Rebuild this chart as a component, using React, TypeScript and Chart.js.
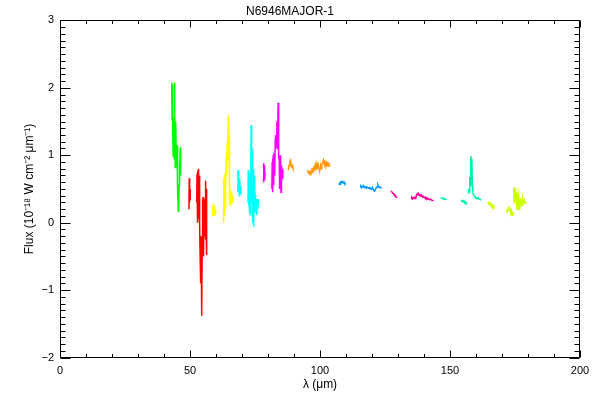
import { useEffect, useRef } from "react";
import { Chart, registerables } from "chart.js";

Chart.register(...registerables);

type Pt = [number, number];

// ---- data: [wavelength (µm), flux (1e-18 W cm^-2 µm^-1)] ----
const greenA: Pt[] = [
  [42.9, 1.9], [43.0, 2.08], [43.1, 1.55], [43.2, 2.05], [43.3, 1.5], [43.4, 1.65], [43.5, 1.0],
  [43.6, 1.55], [43.7, 0.98], [43.8, 1.4], [43.9, 1.2], [44.0, 2.08], [44.1, 1.0], [44.2, 1.5],
  [44.3, 0.82], [44.4, 1.45], [44.5, 0.9], [44.6, 1.5], [44.7, 1.0], [44.8, 1.1], [44.9, 0.82],
  [45.0, 1.15], [45.1, 0.85], [45.2, 0.9], [45.35, 0.5], [45.5, 0.17], [45.6, 0.5], [45.7, 0.2],
  [45.8, 0.55], [45.9, 0.6], [46.0, 0.9], [46.1, 0.55], [46.2, 1.1], [46.3, 0.7], [46.4, 1.12], [46.5, 0.8],
];

const redA: Pt[] = [
  [49.6, 0.2], [49.7, 0.66], [49.8, 0.3], [49.9, 0.45], [50.0, 0.35], [50.1, 0.5],
];
const redB: Pt[] = [
  [52.6, 0.3], [52.7, 0.72], [52.8, 0.1], [52.9, 0.75], [53.0, 0.0], [53.1, 0.78], [53.2, 0.2],
  [53.3, 0.8], [53.4, 0.05], [53.5, 0.7], [53.6, 0.1], [53.7, 0.5], [53.8, -0.05], [53.9, -0.5],
  [54.0, -0.9], [54.1, -0.6], [54.2, -0.8], [54.3, -0.2], [54.4, -0.85], [54.5, -0.4], [54.6, -1.38],
  [54.7, -0.3], [54.8, 0.35], [54.9, -0.45], [55.0, 0.38], [55.1, -0.3], [55.2, 0.3], [55.3, -0.5],
  [55.4, 0.2], [55.5, -0.2], [55.6, 0.35], [55.7, -0.1], [55.8, 0.3], [55.9, -0.25], [56.0, 0.1],
  [56.1, 0.62], [56.2, -0.1], [56.3, 0.5], [56.4, -0.48], [56.5, 0.2],
];

const yellowA: Pt[] = [
  [58.7, 0.1], [58.8, 0.28], [58.9, 0.12], [59.0, 0.25], [59.1, 0.15], [59.3, 0.2], [59.5, 0.1],
  [59.7, 0.18], [59.9, 0.13],
];
const yellowB: Pt[] = [
  [62.8, 0.05], [62.9, 0.65], [63.0, 0.0], [63.1, 0.6], [63.2, 0.1], [63.3, 0.72], [63.4, 0.12],
  [63.5, 0.7], [63.6, 0.2], [63.7, 0.75], [63.8, 0.68], [63.9, 0.98], [64.0, 0.7], [64.1, 0.95],
  [64.2, 0.9], [64.3, 1.2], [64.4, 0.92], [64.5, 1.25], [64.6, 1.2], [64.7, 1.55], [64.8, 1.15],
  [64.9, 1.6], [65.0, 1.3], [65.1, 0.56], [65.2, 0.3], [65.3, 0.45], [65.4, 0.26], [65.5, 0.5],
  [65.7, 0.3], [65.9, 0.45], [66.1, 0.28], [66.3, 0.4], [66.5, 0.3],
];

const cyanA: Pt[] = [
  [68.4, 0.45], [68.5, 0.78], [68.6, 0.5], [68.7, 0.7], [68.8, 0.6], [69.0, 0.4], [69.1, 0.65],
  [69.3, 0.45], [69.5, 0.55], [69.7, 0.42],
];
const cyanB: Pt[] = [
  [72.3, 0.3], [72.4, 0.78], [72.5, 0.25], [72.6, 0.7], [72.7, 0.4], [72.8, 0.72], [72.9, 0.15],
  [73.0, 0.7], [73.1, 0.12], [73.2, 0.6], [73.4, 0.3], [73.5, 1.45], [73.6, 0.3], [73.7, 1.0],
  [73.8, 0.5], [73.9, 1.1], [74.0, 0.2], [74.1, 0.9], [74.2, 0.0], [74.3, 0.8], [74.4, 0.25],
  [74.5, 0.75], [74.6, -0.06], [74.7, 0.6], [74.8, 0.2], [74.9, 0.7], [75.0, 0.3], [75.2, 0.41],
  [75.3, 0.15], [75.5, 0.35], [75.7, 0.11], [75.9, 0.3], [76.1, 0.2], [76.3, 0.35],
];

const magentaA: Pt[] = [
  [78.2, 0.65], [78.3, 0.88], [78.4, 0.6], [78.5, 0.85], [78.6, 0.65], [78.7, 0.8], [78.8, 0.63], [78.9, 0.75],
];
const magentaB: Pt[] = [
  [81.5, 0.5], [81.6, 0.9], [81.7, 0.45], [81.8, 0.95], [81.9, 0.5], [82.0, 1.0], [82.1, 0.55],
  [82.2, 1.03], [82.3, 0.6], [82.4, 0.9], [82.6, 0.7], [82.8, 1.25], [82.9, 1.1], [83.0, 1.3],
  [83.2, 1.15], [83.4, 1.5], [83.6, 1.1], [83.8, 1.6], [83.9, 1.78], [84.0, 1.1], [84.1, 1.5],
  [84.2, 0.95], [84.3, 1.0], [84.4, 0.5], [84.5, 0.95], [84.6, 0.55], [84.7, 1.0], [84.8, 0.6],
  [84.9, 0.95], [85.0, 0.45], [85.1, 0.85], [85.3, 0.6], [85.5, 0.8], [85.7, 0.65],
];

const orangeA: Pt[] = [
  [87.8, 0.78], [88.1, 0.85], [88.4, 0.9], [88.6, 0.92], [88.8, 0.86], [89.0, 0.83], [89.3, 0.85],
  [89.6, 0.81], [89.9, 0.82],
];
const orangeB: Pt[] = [
  [95.3, 0.78], [95.5, 0.74], [95.7, 0.77], [95.9, 0.72], [96.1, 0.73], [96.3, 0.71], [96.5, 0.75],
  [96.7, 0.74], [96.9, 0.77], [97.1, 0.75], [97.3, 0.79], [97.5, 0.78], [97.7, 0.82], [97.9, 0.8],
  [98.1, 0.84], [98.3, 0.79], [98.5, 0.85], [98.7, 0.78], [98.9, 0.84], [99.1, 0.8], [99.3, 0.86],
  [99.5, 0.82], [99.7, 0.79], [99.9, 0.78], [100.1, 0.81], [100.3, 0.83], [100.5, 0.8], [100.7, 0.86],
  [100.9, 0.88], [101.1, 0.9], [101.3, 0.93], [101.5, 0.9], [101.7, 0.91], [101.9, 0.87], [102.1, 0.89],
  [102.3, 0.85], [102.5, 0.88], [102.7, 0.84], [102.9, 0.9], [103.1, 0.86], [103.3, 0.89], [103.5, 0.84],
  [103.7, 0.86],
];

const blueA: Pt[] = [
  [107.3, 0.56], [107.5, 0.58], [107.7, 0.57], [107.9, 0.6], [108.1, 0.61], [108.4, 0.6], [108.7, 0.61],
  [109.0, 0.59], [109.3, 0.6], [109.6, 0.58], [109.9, 0.59],
];
const blueB: Pt[] = [
  [115.4, 0.53], [115.7, 0.54], [116.0, 0.52], [116.3, 0.54], [116.6, 0.53], [116.9, 0.54], [117.2, 0.52],
  [117.5, 0.53], [117.8, 0.51], [118.1, 0.53], [118.4, 0.52], [118.7, 0.51], [119.0, 0.52], [119.3, 0.5],
  [119.6, 0.51], [119.9, 0.5], [120.2, 0.52], [120.5, 0.49], [120.8, 0.47], [121.1, 0.48], [121.4, 0.5],
  [121.7, 0.52], [122.0, 0.53], [122.3, 0.56], [122.5, 0.54], [122.8, 0.52], [123.1, 0.53], [123.4, 0.52],
];

const pinkA: Pt[] = [
  [127.3, 0.47], [127.6, 0.46], [127.9, 0.44], [128.2, 0.43], [128.5, 0.42], [128.8, 0.4], [129.1, 0.39],
  [129.4, 0.38], [129.7, 0.37],
];
const pinkB: Pt[] = [
  [135.0, 0.36], [135.3, 0.37], [135.6, 0.35], [135.9, 0.37], [136.2, 0.36], [136.5, 0.37], [136.8, 0.36],
  [137.1, 0.41], [137.4, 0.43], [137.7, 0.41], [138.0, 0.42], [138.3, 0.4], [138.6, 0.41], [138.9, 0.39],
  [139.2, 0.4], [139.5, 0.38], [139.8, 0.39], [140.1, 0.37], [140.4, 0.38], [140.7, 0.36], [141.0, 0.37],
  [141.3, 0.35], [141.6, 0.36], [141.9, 0.35], [142.2, 0.34], [142.5, 0.35], [142.8, 0.34], [143.1, 0.33],
  [143.4, 0.34],
];

const tealA: Pt[] = [
  [146.5, 0.36], [146.8, 0.37], [147.1, 0.36], [147.4, 0.35], [147.7, 0.36], [148.0, 0.35], [148.3, 0.35], [148.6, 0.34],
];
const tealB: Pt[] = [
  [154.2, 0.33], [154.5, 0.32], [154.8, 0.33], [155.1, 0.31], [155.4, 0.32], [155.7, 0.3], [156.0, 0.31],
  [156.3, 0.28], [156.6, 0.29],
];
const tealC: Pt[] = [
  [157.0, 0.44], [157.2, 0.5], [157.4, 0.46], [157.6, 0.68], [157.8, 0.55], [158.0, 0.99], [158.2, 0.6],
  [158.4, 0.95], [158.6, 0.55], [158.8, 0.45], [159.0, 0.42], [159.3, 0.4], [159.6, 0.38], [159.9, 0.37],
  [160.2, 0.36], [160.5, 0.37], [160.8, 0.35], [161.1, 0.36], [161.4, 0.35], [161.7, 0.34], [162.0, 0.35],
];

const limeA: Pt[] = [
  [164.5, 0.29], [164.8, 0.3], [165.1, 0.27], [165.4, 0.29], [165.7, 0.26], [166.0, 0.27], [166.3, 0.24],
  [166.6, 0.21], [166.9, 0.25], [167.2, 0.24],
];
const limeB: Pt[] = [
  [171.8, 0.2], [172.1, 0.16], [172.4, 0.19], [172.7, 0.23], [173.0, 0.2], [173.3, 0.14], [173.6, 0.18],
  [173.9, 0.11], [174.2, 0.16],
];
const limeC: Pt[] = [
  [174.4, 0.3], [174.6, 0.52], [174.8, 0.3], [175.0, 0.52], [175.2, 0.35], [175.4, 0.45], [175.6, 0.28],
  [175.8, 0.2], [176.0, 0.38], [176.2, 0.42], [176.4, 0.3], [176.6, 0.2], [176.8, 0.35], [177.0, 0.28],
  [177.2, 0.36], [177.4, 0.25], [177.6, 0.33], [177.8, 0.27], [178.0, 0.35], [178.3, 0.3], [178.6, 0.33],
  [178.9, 0.29], [179.2, 0.31],
];

const SERIES: { color: string; pieces: Pt[][] }[] = [
  { color: "#00FF00", pieces: [greenA] },
  { color: "#FF0000", pieces: [redA, redB] },
  { color: "#FFFF00", pieces: [yellowA, yellowB] },
  { color: "#00FFFF", pieces: [cyanA, cyanB] },
  { color: "#FF00FF", pieces: [magentaA, magentaB] },
  { color: "#FF9900", pieces: [orangeA, orangeB] },
  { color: "#0099FF", pieces: [blueA, blueB] },
  { color: "#FF0099", pieces: [pinkA, pinkB] },
  { color: "#00F0B0", pieces: [tealA, tealB, tealC] },
  { color: "#CCFF00", pieces: [limeA, limeB, limeC] },
];

const TITLE = "N6946MAJOR-1";
const X_TITLE = "λ (μm)";
const Y_TITLE = "Flux (10⁻¹⁸ W cm⁻² μm⁻¹)";
const X_MIN = 0, X_MAX = 200, X_MAJOR = 50, X_MINOR = 10;
const Y_MIN = -2, Y_MAX = 3, Y_MAJOR = 1, Y_MINOR = 0.1;

const FONT = "'Liberation Sans', Arial, Helvetica, sans-serif";

const frameTicks = {
  id: "frameTicks",
  afterDraw(chart: any) {
    const { ctx, chartArea } = chart;
    const { left, right, top, bottom } = chartArea;
    const xs = chart.scales.x;
    const ys = chart.scales.y;
    ctx.save();
    ctx.strokeStyle = "#000";
    ctx.lineWidth = 1;
    const L = Math.round(left) + 0.5, R = Math.round(right) - 0.5;
    const T = Math.round(top) + 0.5, B = Math.round(bottom) - 0.5;
    ctx.beginPath();
    ctx.rect(L, T, R - L, B - T);
    const nx = Math.round((X_MAX - X_MIN) / X_MINOR);
    const perMajX = Math.round(X_MAJOR / X_MINOR);
    for (let i = 0; i <= nx; i++) {
      const v = X_MIN + i * X_MINOR;
      const p = Math.round(xs.getPixelForValue(v)) + 0.5;
      const len = i % perMajX === 0 ? 7 : 3.5;
      ctx.moveTo(p, B); ctx.lineTo(p, B - len);
      ctx.moveTo(p, T); ctx.lineTo(p, T + len);
    }
    const ny = Math.round((Y_MAX - Y_MIN) / Y_MINOR);
    const perMajY = Math.round(Y_MAJOR / Y_MINOR);
    for (let i = 0; i <= ny; i++) {
      const v = Y_MIN + i * Y_MINOR;
      const p = Math.round(ys.getPixelForValue(v)) + 0.5;
      const len = i % perMajY === 0 ? 10 : 5;
      ctx.moveTo(L, p); ctx.lineTo(L + len, p);
      ctx.moveTo(R, p); ctx.lineTo(R - len, p);
    }
    ctx.stroke();
    ctx.restore();
  },
};

export default function App() {
  const ref = useRef<HTMLCanvasElement>(null);
  useEffect(() => {
    document.body.style.margin = "0";
    const datasets = SERIES.flatMap((s) =>
      s.pieces.map((p) => ({
        data: p.map(([x, y]) => ({ x, y })),
        borderColor: s.color,
        backgroundColor: s.color,
        borderWidth: 1.5,
        pointRadius: 0,
        tension: 0,
        fill: false,
      }))
    );
    const chart = new Chart(ref.current as HTMLCanvasElement, {
      type: "line",
      data: { datasets },
      plugins: [frameTicks],
      options: {
        animation: false,
        responsive: true,
        maintainAspectRatio: false,
        layout: { padding: { left: 0, right: 20, top: 0, bottom: 0 } },
        plugins: {
          legend: { display: false },
          tooltip: { enabled: false },
          title: {
            display: true,
            text: TITLE,
            color: "#000",
            font: { family: FONT, size: 12, weight: "normal" },
            padding: { top: 4, bottom: 2 },
          },
        },
        scales: {
          x: {
            type: "linear",
            min: X_MIN,
            max: X_MAX,
            grid: { display: false, drawTicks: false },
            border: { display: false },
            ticks: {
              stepSize: X_MAJOR,
              padding: 7,
              color: "#000",
              font: { family: FONT, size: 11 },
              maxRotation: 0,
              callback: (v: any) => String(v).replace("-", "−"),
            },
            title: {
              display: true,
              text: X_TITLE,
              color: "#000",
              font: { family: FONT, size: 12 },
              padding: { top: 0, bottom: 8 },
            },
            afterFit: (scale: any) => {
              scale.height = 42.5;
            },
          },
          y: {
            type: "linear",
            min: Y_MIN,
            max: Y_MAX,
            grid: { display: false, drawTicks: false },
            border: { display: false },
            ticks: {
              stepSize: Y_MAJOR,
              padding: 6,
              color: "#000",
              font: { family: FONT, size: 11 },
              callback: (v: any) => String(v).replace("-", "−"),
            },
            title: {
              display: true,
              text: Y_TITLE,
              color: "#000",
              font: { family: FONT, size: 12 },
              padding: { top: 22, bottom: 0 },
            },
            afterFit: (scale: any) => {
              scale.width = 60;
            },
          },
        },
      } as any,
    });
    return () => chart.destroy();
  }, []);
  return (
    <div style={{ position: "fixed", left: 0, top: 0, width: 600, height: 400, background: "#fff" }}>
      <canvas ref={ref} />
    </div>
  );
}
